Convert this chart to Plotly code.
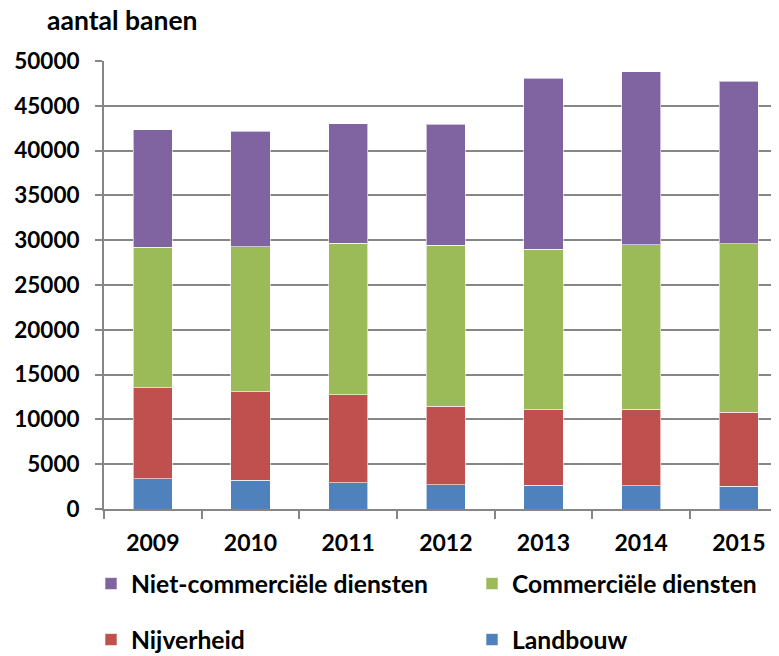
import plotly.graph_objects as go

years = ["2009", "2010", "2011", "2012", "2013", "2014", "2015"]
landbouw = [3360, 3200, 2920, 2730, 2650, 2580, 2540]
nijverheid = [10200, 9880, 9830, 8720, 8430, 8530, 8240]
commercieel = [15670, 16190, 16930, 18000, 17890, 18380, 18820]
niet_commercieel = [13110, 12910, 13320, 13510, 19110, 19310, 18120]

y_ticks = [0, 5000, 10000, 15000, 20000, 25000, 30000, 35000, 40000, 45000, 50000]

FONT = "Lato"
# the page body has an 8px margin, so the figure is 8px smaller than the window
W, H = 771, 648

series = [
    ("Landbouw", landbouw, "#4F81BD", "legend4"),
    ("Nijverheid", nijverheid, "#C0504D", "legend3"),
    ("Commerciële diensten", commercieel, "#9BBB59", "legend2"),
    ("Niet-commerciële diensten", niet_commercieel, "#8064A2", "legend"),
]

fig = go.Figure()
for name, vals, col, leg in series:
    fig.add_trace(go.Bar(
        x=years, y=vals, name=name,
        marker=dict(color=col, line=dict(color="rgba(255,255,255,0.6)", width=1)),
        width=0.4, legend=leg,
    ))

legend_common = dict(
    orientation="h",
    font=dict(family=FONT, size=24.7, color="#000000", weight="bold"),
    xref="container", yref="container",
    xanchor="left", yanchor="middle",
    bgcolor="rgba(0,0,0,0)", itemclick=False, itemdoubleclick=False,
)

col1_x, col2_x = 83, 464
row1_y, row2_y = 576, 632

fig.update_layout(
    width=W, height=H,
    margin=dict(l=96, r=0, t=53, b=146.5, pad=0, autoexpand=False),
    paper_bgcolor="white", plot_bgcolor="white",
    barmode="stack", bargap=0.6,
    showlegend=True,
    font=dict(family=FONT, color="#000000"),
    title=dict(text="aantal banen", font=dict(family=FONT, size=26.5, color="#000000", weight="bold"),
               xref="container", yref="container", x=39 / W, y=1 - 13 / H,
               xanchor="left", yanchor="middle", automargin=False),
    legend=dict(x=col1_x / W, y=1 - row1_y / H, **legend_common),
    legend2=dict(x=col2_x / W, y=1 - row1_y / H, **legend_common),
    legend3=dict(x=col1_x / W, y=1 - row2_y / H, **legend_common),
    legend4=dict(x=col2_x / W, y=1 - row2_y / H, **legend_common),
    xaxis=dict(
        type="category", range=[-0.5, 6.411], automargin=False,
        showline=True, linecolor="#868686", linewidth=2,
        ticks="outside", tickson="boundaries", ticklen=8, tickcolor="#868686", tickwidth=2,
        tickfont=dict(family=FONT, size=23, color="#000000", weight="bold"),
        showgrid=False, ticklabelstandoff=12,
    ),
    yaxis=dict(
        range=[0, 50000], tickvals=y_ticks, automargin=False,
        ticktext=[str(v) for v in y_ticks],
        showline=True, linecolor="#868686", linewidth=2,
        ticks="outside", ticklen=7, tickcolor="#868686", tickwidth=2,
        showgrid=True, gridcolor="#868686", gridwidth=2,
        tickfont=dict(family=FONT, size=22.5, color="#000000", weight="bold"),
        ticklabelstandoff=11, zeroline=False,
    ),
)

fig.write_html("out.html")
